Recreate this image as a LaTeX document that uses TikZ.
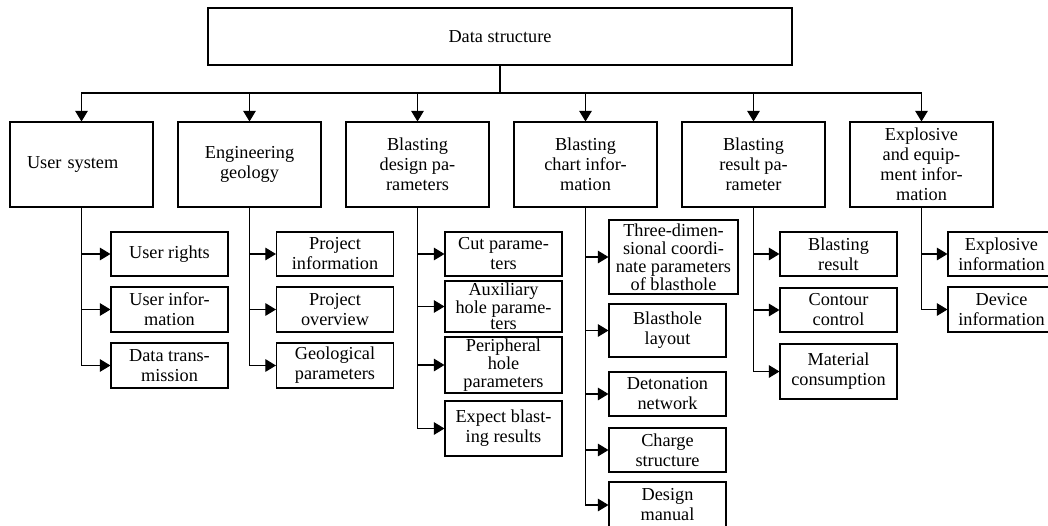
\documentclass[tikz,border=0pt]{standalone}
\usepackage{fontspec}
\setmainfont{Liberation Serif}
\usepackage{tikz}
\usetikzlibrary{calc, positioning, arrows.meta}
\def\colsep{126pt}
\tikzstyle{box}=[draw, line width=0.8pt, inner sep=1pt, align=center, font=\fontsize{13.7}{15}\selectfont]
\tikzstyle{root}=[box, minimum width=438pt, minimum height=42.75pt]
\tikzstyle{branch}=[box, minimum width=107.25pt, minimum height=63.75pt]
\tikzstyle{leaf}=[box, minimum width=87.75pt, minimum height=33pt]
\tikzstyle{tight}=[font=\fontsize{13.7}{13.5}\selectfont]
\tikzstyle{link}=[line width=0.8pt]
\tikzstyle{tree arrow}=[link, -{Triangle[length=8pt,width=9.5pt]}]

\begin{document}
\begin{tikzpicture}[x=0.75pt, y=-0.75pt, node distance=\colsep]
    \useasboundingbox (0,0) rectangle (1048,525);

		\node[root] (ds) at (500,36.5) {Data structure};

		% first level
		\node[branch, text width=81.75pt, align=left] (us) at (81.5,164.5) {User system};
		\node[branch, right of=us] (eg) {Engineering\\geology};
		\node[branch, right of=eg] (bd) {Blasting\\design pa-\\rameters};
		\node[branch, right of=bd] (bc) {Blasting\\chart infor-\\mation};
		\node[branch, right of=bc] (br) {Blasting\\result pa-\\rameter};
		\node[branch, right of=br] (ee) {Explosive\\and equip-\\ment infor-\\mation};

		% second level
		\node[leaf] (us1) at (169.5,254) {User rights};
		\node[leaf, minimum height=33.75pt] (us2) at (169.5,309.5) {User infor-\\mation};
		\node[leaf, minimum height=33.75pt] (us3) at (169.5,365.5) {Data trans-\\mission};

		\node[leaf] (eg1) at (335,254) {Project\\information};
		\node[leaf, minimum height=33.75pt] (eg2) at (335,309.5) {Project\\overview};
		\node[leaf, minimum height=33.75pt] (eg3) at (335,365.5) {Geological\\parameters};

		\node[leaf] (bd1) at (503.5,254) {Cut parame-\\ters};
		\node[leaf, minimum height=38.25pt, font=\fontsize{13.7}{12.2}\selectfont] (bd2) at (503.5,306.5) {Auxiliary\\hole parame-\\ters};
		\node[leaf, tight, minimum height=42pt] (bd3) at (503.5,365) {Peripheral\\hole\\parameters};
		\node[leaf, minimum height=41.25pt] (bd4) at (503.5,428.5) {Expect blast-\\ing results};

		\node[leaf, tight, minimum width=96.75pt, minimum height=55.5pt] (bc1) at (673.5,257) {Three-dimen-\\sional coordi-\\nate parameters\\of blasthole};
		\node[leaf, minimum height=39.75pt] (bc2) at (667.5,330.5) {Blasthole\\layout};
		\node[leaf] (bc3) at (667.5,394) {Detonation\\network};
		\node[leaf] (bc4) at (667.5,450) {Charge\\structure};
		\node[leaf, minimum height=34.5pt] (bc5) at (667.5,505) {Design\\manual};

		\node[leaf] (br1) at (838.5,254) {Blasting\\result};
		\node[leaf] (br2) at (838.5,310) {Contour\\control};
		\node[leaf, minimum height=41.25pt] (br3) at (838.5,371.5) {Material\\consumption};

		\node[leaf, minimum width=80.25pt] (ee1) at (1001.5,254) {Explosive\\information};
		\node[leaf, minimum width=80.25pt, minimum height=33.75pt] (ee2) at (1001.5,309.5) {Device\\information};

		% connectors
		\coordinate (bus) at (500,93);
		\draw[link] (ds) -- (bus);
		\foreach \n in {us,eg,bd,bc,br,ee}
			\draw[tree arrow] (bus) -| (\n.north);
		\foreach \p/\c in {us/us1,us/us2,us/us3,eg/eg1,eg/eg2,eg/eg3,bd/bd1,bd/bd2,bd/bd3,bd/bd4,
			bc/bc1,bc/bc2,bc/bc3,bc/bc4,bc/bc5,br/br1,br/br2,br/br3,ee/ee1,ee/ee2}
			\draw[tree arrow] (\p.south) |- (\c.west);
	\end{tikzpicture}
\end{document}
